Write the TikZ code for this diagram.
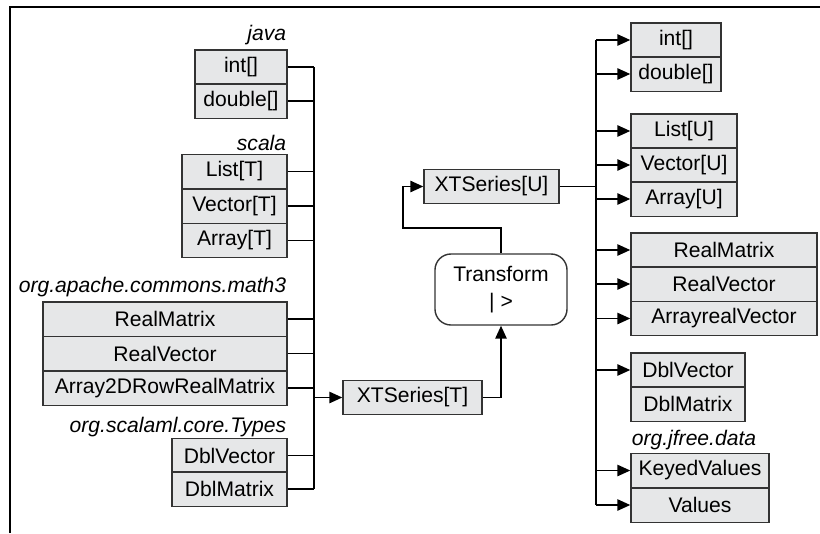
\documentclass[tikz,border=0pt]{standalone}
\usepackage{fontspec}
\setmainfont{Liberation Sans}
\usetikzlibrary{arrows.meta}
\definecolor{boxgrey}{HTML}{E6E7E8}
\definecolor{edgegrey}{HTML}{333333}
\begin{document}
\begin{tikzpicture}[x=0.025cm, y=-0.025cm, line width=1.2pt,
  row/.style={draw=edgegrey, fill=boxgrey, line width=1pt, inner sep=0pt, minimum height=0.86cm, font=\fontsize{15}{18}\selectfont},
  pkg/.style={inner sep=0pt, font=\fontsize{15}{18}\selectfont\itshape},
  arr/.style={-{Triangle[length=3.2mm, width=2.8mm]}}]
\useasboundingbox (0,0) rectangle (820,533);
\draw (10,533) -- (10,7) -- (820,7);
% left bus
\coordinate (L_top) at (314,67);
\coordinate (L_bot) at (314,489);
\draw (L_top) -- (L_bot);
\node[pkg, anchor=east] (P_java) at (287,35) {java};
\node[row, minimum width=2.3cm] (L_int) at (241,67) {int[]};
\draw (L_int.east) -- (L_int.east -| L_top);
\node[row, minimum width=2.3cm] (L_double) at (241,101) {double[]};
\draw (L_double.east) -- (L_double.east -| L_top);
\node[pkg, anchor=east] (P_scala) at (287,143) {scala};
\node[row, minimum width=2.625cm] (L_list) at (234.5,171.5) {List[T]};
\draw (L_list.east) -- (L_list.east -| L_top);
\node[row, minimum width=2.625cm] (L_vector) at (234.5,206) {Vector[T]};
\draw (L_vector.east) -- (L_vector.east -| L_top);
\node[row, minimum width=2.625cm] (L_array) at (234.5,240.5) {Array[T]};
\draw (L_array.east) -- (L_array.east -| L_top);
\node[pkg, anchor=east] (P_math) at (287,287) {org.apache.commons.math3};
\node[row, minimum width=6.1cm] (L_rmat) at (165,319) {RealMatrix};
\draw (L_rmat.east) -- (L_rmat.east -| L_top);
\node[row, minimum width=6.1cm] (L_rvec) at (165,353.5) {RealVector};
\draw (L_rvec.east) -- (L_rvec.east -| L_top);
\node[row, minimum width=6.1cm] (L_a2d) at (165,388) {Array2DRowRealMatrix};
\draw (L_a2d.east) -- (L_a2d.east -| L_top);
\node[pkg, anchor=east] (P_types) at (287,427) {org.scalaml.core.Types};
\node[row, minimum width=2.875cm] (L_dvec) at (229.5,455.5) {DblVector};
\draw (L_dvec.east) -- (L_dvec.east -| L_top);
\node[row, minimum width=2.875cm] (L_dmat) at (229.5,489) {DblMatrix};
\draw (L_dmat.east) -- (L_dmat.east -| L_top);
% middle
\node[row, minimum width=3.475cm] (XT_T) at (412.5,397.5) {XTSeries[T]};
\draw[arr] (XT_T.west -| L_top) -- (XT_T.west);
\node[row, rounded corners=0.4cm, minimum width=3.3cm, minimum height=1.775cm, fill=white, align=center] (Trans) at (501,289.5) {Transform\\[1pt]| >};
\draw[arr] (XT_T.east) -| (Trans.south);
\node[row, minimum width=3.375cm] (XT_U) at (491.5,186.5) {XTSeries[U]};
\coordinate (Bend) at (403,228);
\draw[arr] (Trans.north) |- (Bend) |- (XT_U.west);
% right bus
\coordinate (R_top) at (596,40);
\coordinate (R_bot) at (596,505);
\draw (R_top) -- (R_bot);
\draw (XT_U.east) -- (XT_U.east -| R_top);
\node[row, minimum width=2.25cm] (R_int) at (676,40) {int[]};
\draw[arr] (R_int.west -| R_top) -- (R_int.west);
\node[row, minimum width=2.25cm] (R_double) at (676,74) {double[]};
\draw[arr] (R_double.west -| R_top) -- (R_double.west);
\node[row, minimum width=2.65cm] (R_list) at (684,131) {List[U]};
\draw[arr] (R_list.west -| R_top) -- (R_list.west);
\node[row, minimum width=2.65cm] (R_vector) at (684,165) {Vector[U]};
\draw[arr] (R_vector.west -| R_top) -- (R_vector.west);
\node[row, minimum width=2.65cm] (R_array) at (684,199) {Array[U]};
\draw[arr] (R_array.west -| R_top) -- (R_array.west);
\node[row, minimum width=4.65cm] (R_rmat) at (724,250) {RealMatrix};
\draw[arr] (R_rmat.west -| R_top) -- (R_rmat.west);
\node[row, minimum width=4.65cm] (R_rvec) at (724,284) {RealVector};
\draw[arr] (R_rvec.west -| R_top) -- (R_rvec.west);
\node[row, minimum width=4.65cm] (R_arvec) at (724,318.5) {ArrayrealVector};
\draw[arr] (R_arvec.west -| R_top) -- (R_arvec.west);
\node[row, minimum width=2.85cm] (R_dvec) at (688,370) {DblVector};
\draw[arr] (R_dvec.west -| R_top) -- (R_dvec.west);
\node[row, minimum width=2.85cm] (R_dmat) at (688,404) {DblMatrix};
\node[pkg, anchor=west] (P_jfree) at (631,440) {org.jfree.data};
\node[row, minimum width=3.45cm] (R_keyed) at (700,470.5) {KeyedValues};
\draw[arr] (R_keyed.west -| R_top) -- (R_keyed.west);
\node[row, minimum width=3.45cm] (R_values) at (700,505) {Values};
\draw[arr] (R_values.west -| R_top) -- (R_values.west);
\end{tikzpicture}
\end{document}
